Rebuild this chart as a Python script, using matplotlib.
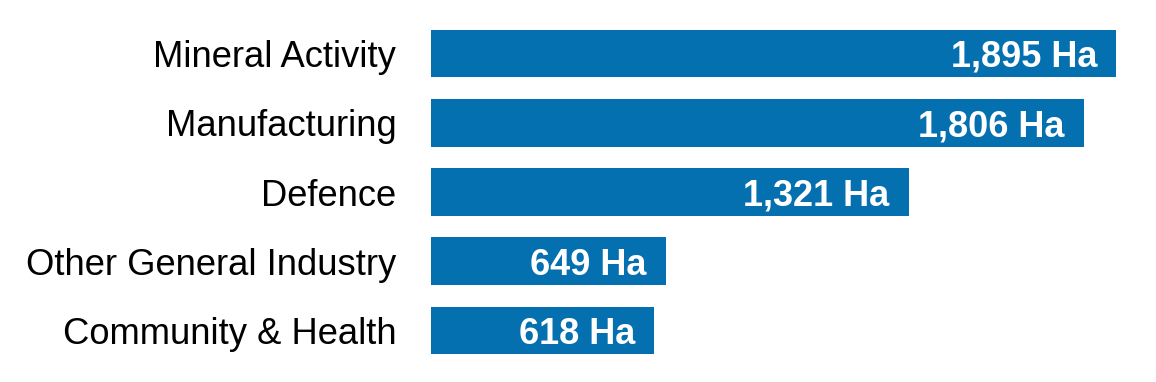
import matplotlib.pyplot as plt

categories = ["Mineral Activity", "Manufacturing", "Defence",
              "Other General Industry", "Community & Health"]
values = [1895, 1806, 1321, 649, 618]
value_labels = ["1,895 Ha", "1,806 Ha", "1,321 Ha", "649 Ha", "618 Ha"]

plt.rcParams['font.family'] = ['Liberation Sans', 'DejaVu Sans']

W, H = 1156, 382
fig = plt.figure(figsize=(W / 100, H / 100), dpi=100)

# axes placed in pixel terms
left, right = 431, 1116
spacing = 69.25
c_top = 53.5
top = c_top - spacing / 2
bottom = top + spacing * len(categories)
ax = fig.add_axes([left / W, 1 - bottom / H, (right - left) / W, (bottom - top) / H])

ypos = list(range(len(categories)))
ax.barh(ypos, values, height=0.69, color='#0570b0')
ax.set_xlim(0, max(values))
ax.set_ylim(len(categories) - 0.5, -0.5)

pad = 19 / (right - left) * max(values)
for y, v, lab in zip(ypos, values, value_labels):
    ax.text(v - pad, y, lab, ha='right', va='center_baseline', color='white',
            fontsize=26, fontweight='bold')

ax.set_yticks(ypos)
ax.set_yticklabels(categories, fontsize=26.2)
ax.tick_params(axis='y', length=0, pad=25)
for t in ax.get_yticklabels():
    t.set_verticalalignment('center_baseline')
ax.set_xticks([])
for s in ax.spines.values():
    s.set_visible(False)

fig.savefig('out.png', dpi=100)
